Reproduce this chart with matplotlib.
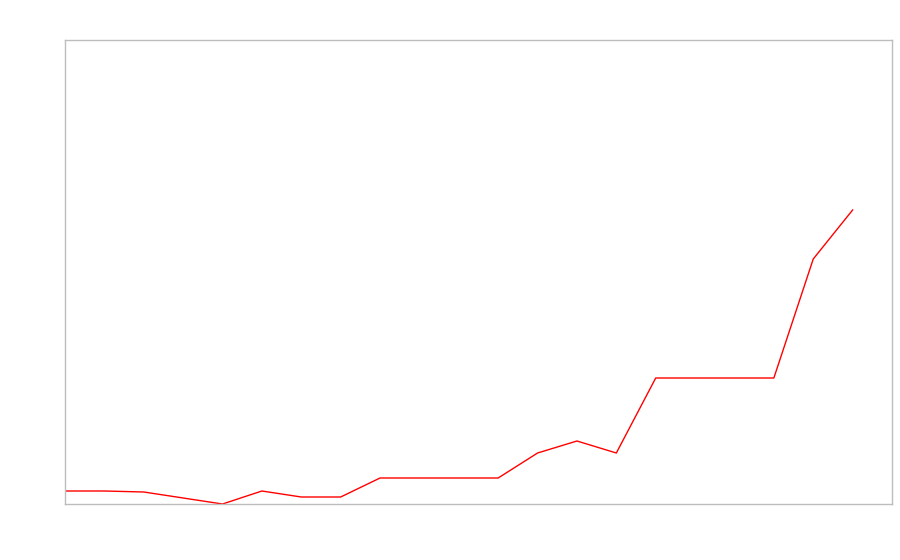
import matplotlib
matplotlib.use("Agg")
import matplotlib.pyplot as plt

# values (pixels above the bottom border)
steps = list(range(21))
values = [13, 13, 12, 6, 0, 13, 7, 7, 26, 26, 26, 26,
          51, 63, 51, 126, 126, 126, 126, 245, 294]

fig = plt.figure(figsize=(9, 5.6), dpi=100)
ax = fig.add_axes([65/900, 56/560, 827/900, 464/560])
ax.plot(steps, values, color="red", linewidth=1)
ax.set_xlim(0, 21)
ax.set_ylim(0, 464)
ax.set_xticks([])
ax.set_yticks([])
for s in ax.spines.values():
    s.set_color("#bdbdbd")
    s.set_linewidth(1)

plt.savefig("out.png", dpi=100)
